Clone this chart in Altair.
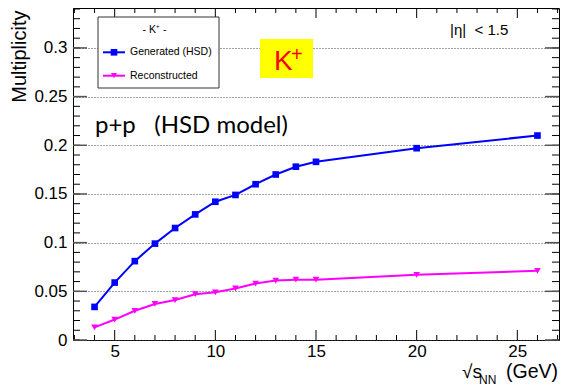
import altair as alt
import pandas as pd

# ---- data ----
sqrt_s = [4, 5, 6, 7, 8, 9, 10, 11, 12, 13, 14, 15, 20, 26]
generated = [0.034, 0.059, 0.081, 0.099, 0.115, 0.129, 0.142, 0.149, 0.160, 0.170, 0.178, 0.183, 0.197, 0.210]
reconstructed = [0.013, 0.021, 0.030, 0.037, 0.041, 0.047, 0.049, 0.053, 0.058, 0.061, 0.062, 0.062, 0.067, 0.071]
series_names = ["Generated (HSD)", "Reconstructed"]
series_colors = ["#0000ff", "#ff00ff"]
series_shapes = ["square", "triangle-down"]

x_major = [5, 10, 15, 20, 25]
x_minor = [3, 4, 6, 7, 8, 9, 11, 12, 13, 14, 16, 17, 18, 19, 21, 22, 23, 24, 26, 27]
y_major = [0, 0.05, 0.1, 0.15, 0.2, 0.25, 0.3]
y_minor = [round(i * 0.01, 2) for i in range(35)]

W, H = 486, 332
XDOM = [2.93, 27.07]
YDOM = [0, 0.341]
FONT = "Liberation Sans"

rows = []
for name, vals in zip(series_names, [generated, reconstructed]):
    for xv, yv in zip(sqrt_s, vals):
        rows.append({"x": xv, "y": yv, "series": name})
df = pd.DataFrame(rows)

xs = alt.Scale(domain=XDOM, nice=False, zero=False)
ys = alt.Scale(domain=YDOM, nice=False, zero=False)
color = alt.Color("series:N", scale=alt.Scale(domain=series_names, range=series_colors), legend=None)
shape = alt.Shape("series:N", scale=alt.Scale(domain=series_names, range=series_shapes), legend=None)

x_axis = alt.Axis(values=x_major, title=None, domain=False, ticks=False, grid=False,
                  labelFont=FONT, labelFontSize=17, labelColor="black", labelPadding=3)
y_axis = alt.Axis(values=y_major, format="~g", domain=False, ticks=False, grid=True,
                  gridDash=[1, 2], gridColor="#444", gridWidth=1,
                  labelFont=FONT, labelFontSize=17, labelColor="black", labelPadding=6,
                  title="Multiplicity", titleFont=FONT, titleFontSize=20, titleFontWeight="normal",
                  titleColor="black", titleAngle=270, titleX=-48, titleY=2,
                  titleAlign="right", titleBaseline="alphabetic")


def X(field):
    return alt.X(field, scale=xs, axis=x_axis)


def Y(field):
    return alt.Y(field, scale=ys, axis=y_axis)


base = alt.Chart(df)
lines = base.mark_line(strokeWidth=2).encode(x=X("x:Q"), y=Y("y:Q"), color=color)
points = base.mark_point(filled=True, opacity=1, size=44).encode(
    x=X("x:Q"), y=Y("y:Q"), color=color, shape=shape)


def xticks(vals, length, color="black", width=1):
    d = pd.DataFrame({"x": vals})
    b = alt.Chart(d).mark_rule(color=color, strokeWidth=width)
    bot = b.encode(x=X("x:Q"), y=alt.value(H), y2=alt.value(H - length))
    top = b.encode(x=X("x:Q"), y=alt.value(0), y2=alt.value(length))
    return [bot, top]


def yticks(vals, length, color="black", width=1):
    d = pd.DataFrame({"y": vals})
    b = alt.Chart(d).mark_rule(color=color, strokeWidth=width)
    left = b.encode(y=Y("y:Q"), x=alt.value(0), x2=alt.value(length))
    right = b.encode(y=Y("y:Q"), x=alt.value(W), x2=alt.value(W - length))
    return [left, right]


tick_layers = (xticks(x_minor, 5) + xticks(x_major, 10) +
               yticks(y_minor, 7) + yticks(y_major, 14, color="#555", width=1.5))

one = alt.Data(values=[{}])


def text(t, x, y, size, font=FONT, color="black", align="left", baseline="alphabetic", weight="normal"):
    return alt.Chart(one).mark_text(text=t, font=font, fontSize=size, color=color, align=align,
                                    baseline=baseline, fontWeight=weight).encode(
        x=alt.value(x), y=alt.value(y))


def rect(x, x2, y, y2, fill, stroke=None):
    kw = {"fill": fill}
    if stroke:
        kw.update(stroke=stroke, strokeWidth=1)
    return alt.Chart(one).mark_rect(**kw).encode(
        x=alt.value(x), x2=alt.value(x2), y=alt.value(y), y2=alt.value(y2))


def hline(x, x2, y, color):
    return alt.Chart(one).mark_rule(color=color, strokeWidth=2).encode(
        x=alt.value(x), x2=alt.value(x2), y=alt.value(y))


def marker(x, y, color, shp, size):
    return alt.Chart(one).mark_point(filled=True, opacity=1, color=color, shape=shp, size=size).encode(
        x=alt.value(x), y=alt.value(y))


NB = "\u00a0"
annot = [
    # legend box
    rect(25, 146, 9, 80, "white", "#333"),
    text("- K⁺ -", 81.5, 22, 10.5, align="center", baseline="middle"),
    hline(30, 52, 44.3, series_colors[0]),
    marker(41, 44.3, series_colors[0], series_shapes[0], 44),
    text(series_names[0], 57, 44.3, 10.5, baseline="middle"),
    hline(30, 52, 67.7, series_colors[1]),
    marker(41, 67.7, series_colors[1], series_shapes[1], 36),
    text(series_names[1], 57, 67.7, 10.5, baseline="middle"),
    # K+ box
    rect(187, 240, 31, 70, "#ffff00"),
    text("K", 201, 62, 28, color="#ff0000"),
    text("+", 218, 52.5, 20, color="#ff0000"),
    # annotations
    text("p+p" + NB * 3 + "(HSD model)", 22, 125.3, 24, font="Lato"),
    text("|η|" + NB * 2 + "< 1.5", 377, 22, 15, baseline="middle"),
    # x title
    text("√s", 389, 370, 19),
    text("NN", 406, 376, 12),
    text("(GeV)", 433, 370, 19.5),
]

chart = alt.layer(lines, points, *tick_layers, *annot).properties(
    width=W, height=H,
    autosize=alt.AutoSizeParams(type="none"),
    padding={"left": 73, "top": 8, "right": 3, "bottom": 49},
    background="white",
).configure_view(stroke="black", strokeWidth=1)

chart.save("out.html", embed_options={"renderer": "svg", "actions": False})
